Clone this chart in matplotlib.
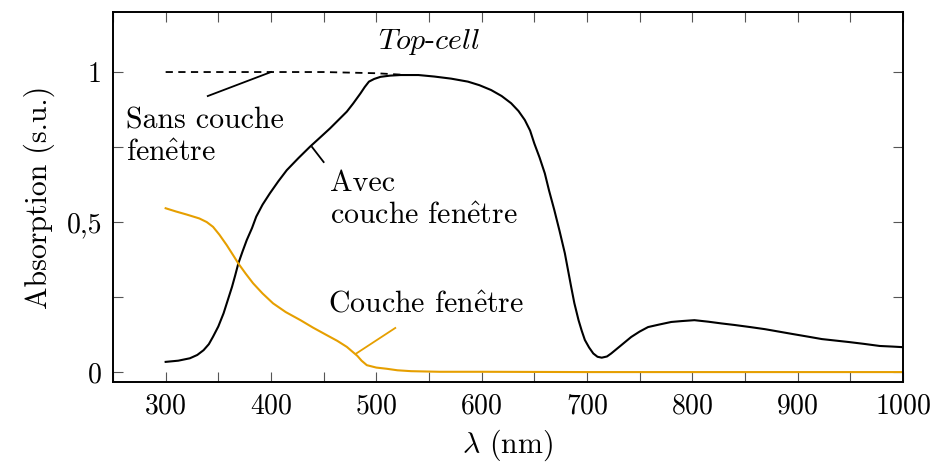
import matplotlib
matplotlib.use("Agg")
import matplotlib.pyplot as plt
from matplotlib.ticker import MultipleLocator, FixedLocator, FixedFormatter

plt.rcParams['font.family'] = ['cmr10', 'DejaVu Serif']
plt.rcParams['mathtext.fontset'] = 'cm'
plt.rcParams['axes.formatter.use_mathtext'] = True

# Absorption avec couche fenetre (top-cell)
avec_x = [300, 312, 323, 330, 336, 341, 345, 350, 355, 359, 363, 366, 369, 373, 377,
          382, 386, 392, 399, 407, 415, 426, 437, 447, 456, 464, 472, 478, 485, 489,
          493, 498, 504, 513, 523, 540, 555, 571, 587, 598, 609, 619, 628, 635, 641,
          646, 650, 655, 660, 664, 669, 674, 679, 682, 685, 688, 692, 695, 698, 702,
          706, 710, 714, 719, 723, 732, 742, 750, 758, 768, 780, 790, 802, 815, 828,
          840, 855, 869, 882, 895, 910, 923, 936, 949, 963, 978, 990, 1000]
avec_y = [0.034, 0.038, 0.046, 0.057, 0.073, 0.093, 0.118, 0.152, 0.196, 0.24, 0.284,
          0.322, 0.362, 0.402, 0.44, 0.48, 0.518, 0.558, 0.596, 0.636, 0.673, 0.713,
          0.751, 0.783, 0.812, 0.84, 0.868, 0.895, 0.929, 0.95, 0.968, 0.977, 0.984,
          0.988, 0.99, 0.99, 0.985, 0.978, 0.968, 0.956, 0.94, 0.92, 0.896, 0.87, 0.84,
          0.805, 0.762, 0.715, 0.662, 0.605, 0.54, 0.47, 0.396, 0.34, 0.284, 0.23, 0.173,
          0.138, 0.107, 0.082, 0.062, 0.051, 0.048, 0.052, 0.062, 0.088, 0.117, 0.135,
          0.15, 0.158, 0.167, 0.17, 0.173, 0.168, 0.162, 0.157, 0.15, 0.143, 0.135,
          0.127, 0.118, 0.11, 0.105, 0.1, 0.094, 0.087, 0.085, 0.083]

# Absorption sans couche fenetre (pointille)
sans_x = [300, 400, 450, 500, 530]
sans_y = [1.0, 1.0, 1.0, 0.996, 0.99]

# Absorption de la couche fenetre
fen_x = [300, 310, 320, 332, 339, 345, 351, 358, 364, 369, 376, 383, 392, 402, 414,
         428, 440, 453, 463, 472, 478, 482, 486, 491, 500, 510, 520, 533, 560, 600,
         700, 800, 900, 1000]
fen_y = [0.546, 0.535, 0.525, 0.512, 0.5, 0.484, 0.458, 0.423, 0.39, 0.362, 0.328,
         0.296, 0.262, 0.229, 0.2, 0.173, 0.148, 0.123, 0.104, 0.084, 0.066, 0.054,
         0.038, 0.023, 0.015, 0.011, 0.006, 0.003, 0.001, 0.001, 0.0, 0.0, 0.0, 0.0]

x_ticks = [300, 400, 500, 600, 700, 800, 900, 1000]
y_ticks = [0, 0.5, 1]
y_tick_labels = ['0', '0,5', '1']

fig = plt.figure(figsize=(9.33, 4.66), dpi=100)
ax = fig.add_axes([0.1211, 0.1803, 0.8467, 0.7939])

ax.plot(avec_x, avec_y, color='black', lw=1.5)
ax.plot(sans_x, sans_y, color='black', lw=1.3, ls=(0, (4, 3)))
ax.plot(fen_x, fen_y, color='#E69F00', lw=1.5)

# annotation pins
ax.plot([340, 400], [0.92, 1.0], color='black', lw=1.3)
ax.plot([439, 450], [0.75, 0.70], color='black', lw=1.3)
ax.plot([481, 518], [0.062, 0.147], color='#E69F00', lw=1.3)

fs = 21.5
ee = r'$\hat{\mathrm{e}}$'
ax.text(550, 1.1, r'$\mathit{Top}$-$\mathit{cell}$', ha='center', va='center',
        fontsize=fs)
ax.text(262, 0.783, 'Sans couche\nfen' + ee + 'tre', ha='left', va='center',
        fontsize=fs, linespacing=1.25)
ax.text(456, 0.573, 'Avec\ncouche fen' + ee + 'tre', ha='left', va='center',
        fontsize=fs, linespacing=1.25)
ax.text(454, 0.225, 'Couche fen' + ee + 'tre', ha='left', va='center', fontsize=fs)

ax.set_xlim(250, 1000)
ax.set_ylim(-0.033, 1.2)
ax.xaxis.set_major_locator(FixedLocator(x_ticks))
ax.xaxis.set_minor_locator(MultipleLocator(50))
ax.yaxis.set_major_locator(FixedLocator(y_ticks))
ax.yaxis.set_major_formatter(FixedFormatter(y_tick_labels))
ax.yaxis.set_minor_locator(MultipleLocator(0.25))
ax.tick_params(which='both', direction='in', top=True, right=True, length=7,
               width=0.8, color='#555555', labelsize=20, pad=8)

for s in ax.spines.values():
    s.set_linewidth(1.4)

ax.set_xlabel(r'$\lambda$ (nm)', fontsize=fs, labelpad=6)
ax.set_ylabel('Absorption (s.u.)', fontsize=fs, labelpad=8)

fig.savefig('out.png', dpi=100)
